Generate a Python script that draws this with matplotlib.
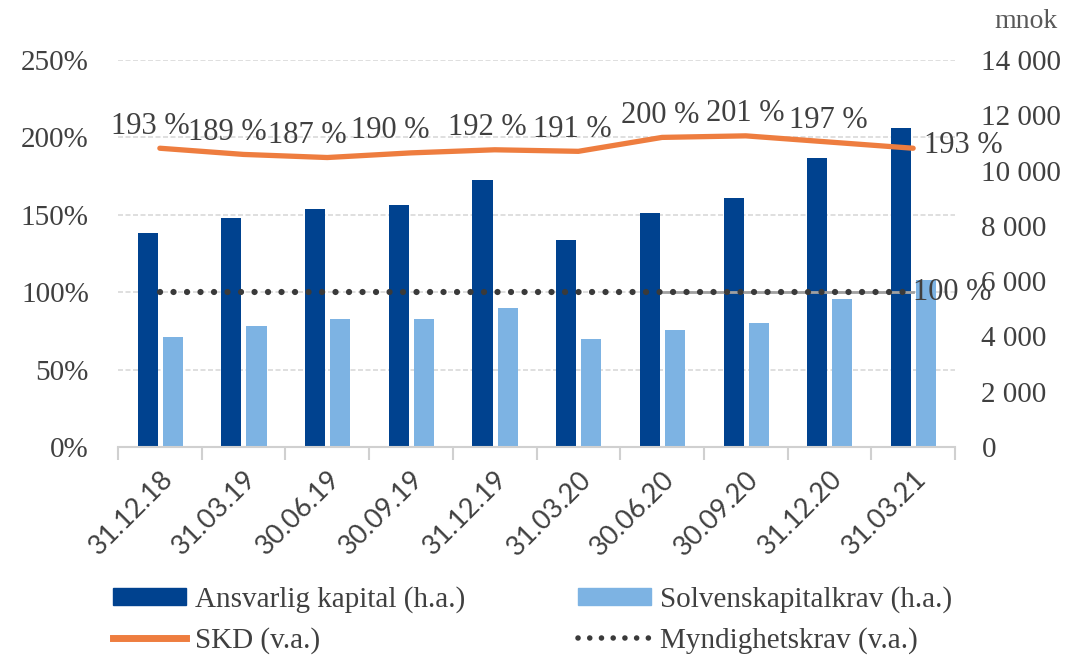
import matplotlib
matplotlib.use("Agg")
import matplotlib.pyplot as plt
import numpy as np
from matplotlib.ticker import FixedLocator, FuncFormatter
from matplotlib.lines import Line2D
from matplotlib.patches import Patch

categories = ["31.12.18", "31.03.19", "30.06.19", "30.09.19", "31.12.19",
              "31.03.20", "30.06.20", "30.09.20", "31.12.20", "31.03.21"]
ansvarlig = [7750, 8300, 8600, 8750, 9650, 7480, 8450, 9000, 10450, 11550]
solvens = [3980, 4380, 4620, 4620, 5020, 3900, 4230, 4480, 5350, 6050]
skd = [193, 189, 187, 190, 192, 191, 200, 201, 197, 193]
krav = [100] * 10
left_ticks = [0, 50, 100, 150, 200, 250]
right_ticks = [0, 2000, 4000, 6000, 8000, 10000, 12000, 14000]

DARK = "#00428F"
LIGHT = "#7DB3E3"
ORANGE = "#EE7D3F"
TXT = "#404040"
SERIF = ["Liberation Serif", "DejaVu Serif"]
SANS = ["Lato", "DejaVu Sans"]

fig = plt.figure(figsize=(10.74, 6.57), dpi=100)
ax = fig.add_axes([118/1074, 1-447/657, (955-118)/1074, (447-60)/657])
ax2 = ax.twinx()

x = np.arange(len(categories))
w = 0.24
ax2.bar(x - 0.145, ansvarlig, width=w, color=DARK, zorder=2)
ax2.bar(x + 0.155, solvens, width=w, color=LIGHT, zorder=2)
ax2.set_ylim(0, 14000)
ax2.set_yticks(right_ticks)
ax2.yaxis.set_major_formatter(FuncFormatter(lambda v, p: f"{int(v):,}".replace(",", " ")))
for lab in ax2.get_yticklabels():
    lab.set_fontfamily(SERIF)
ax2.tick_params(axis="y", length=0, labelsize=21, colors=TXT, pad=19)
for s in ax2.spines.values():
    s.set_visible(False)

# lines on left axis, drawn above bars
ax.set_zorder(ax2.get_zorder() + 1)
ax.patch.set_visible(False)
ax.set_ylim(0, 250)
ax.set_xlim(-0.5, len(categories) - 0.5)
ax.set_yticks(left_ticks)
ax.yaxis.set_major_formatter(FuncFormatter(lambda v, p: f"{int(v)}%"))
ax.tick_params(axis="y", length=0, labelsize=21, colors=TXT, pad=21)
for lab in ax.get_yticklabels():
    lab.set_fontfamily(SERIF)
for s in ["top", "left", "right"]:
    ax.spines[s].set_visible(False)
ax.spines["bottom"].set_color("#D0D0D0")
ax.spines["bottom"].set_linewidth(1.5)

# grid on ax2 behind bars
for t in left_ticks[1:]:
    ax2.axhline(t / 250 * 14000, color="#D9D9D9", lw=1.2, ls=(0, (3, 1.5)), zorder=0)

ax.xaxis.set_major_locator(FixedLocator(np.arange(-0.5, len(categories), 1.0)))
ax.xaxis.set_minor_locator(FixedLocator(x))
ax.set_xticklabels([], minor=False)
ax.set_xticklabels(categories, minor=True, rotation=45, ha="right",
                   rotation_mode="anchor", fontsize=19.5, color=TXT, family=SANS)
ax.tick_params(axis="x", which="major", length=9, color="#D0D0D0", width=1.5)
ax.tick_params(axis="x", which="minor", length=0, pad=14)

ax.plot(x[6:], krav[6:], color="#A0A0A0", lw=2, zorder=3)
ax.plot(x, skd, color=ORANGE, lw=3.8, solid_capstyle="round", zorder=4)
ax.plot(x, krav, color="#3A3A3A", lw=4.5,
        ls=(0, (0.01, 2.15)), dash_capstyle="round", zorder=5)

offs = [(-10, 22), (-16, 22), (-20, 22), (-21, 22), (-7, 22), (-6, 22),
        (-2, 22), (0, 22), (-1, 22), (50, 3)]
for i, v in enumerate(skd):
    ax.annotate(f"{v} %", (x[i], v), xytext=offs[i], textcoords="offset pixels",
                ha="center", va="center", fontsize=22, color=TXT, family=SERIF, zorder=6)
ax.annotate("100 %", (x[-1], 100), xytext=(0, 0), textcoords="offset pixels",
            ha="left", va="center", fontsize=22, color=TXT, family=SERIF, zorder=6)

fig.text(1026/1074, 1-22/657, "mnok", ha="center", va="center", fontsize=20,
         color="#595959", family=SERIF)

legkw = dict(frameon=False, prop={"family": SERIF, "size": 21}, handlelength=2.5,
             handleheight=0.5, handletextpad=0.3, labelspacing=0.45,
             labelcolor=TXT, borderpad=0, borderaxespad=0, loc="center left")
h1 = [Patch(color=DARK), Line2D([], [], color=ORANGE, lw=5)]
l1 = ["Ansvarlig kapital (h.a.)", "SKD (v.a.)"]
h2 = [Patch(color=LIGHT),
      Line2D([], [], color="#3A3A3A", lw=4, ls=(0, (0.01, 2.1)), dash_capstyle="round")]
l2 = ["Solvenskapitalkrav (h.a.)", "Myndighetskrav (v.a.)"]
leg1 = fig.legend(h1, l1, bbox_to_anchor=(113/1074, 1-620/657), **legkw)
leg2 = fig.legend(h2, l2, bbox_to_anchor=(578/1074, 1-620/657), **legkw)

fig.savefig("out.png", dpi=100)
